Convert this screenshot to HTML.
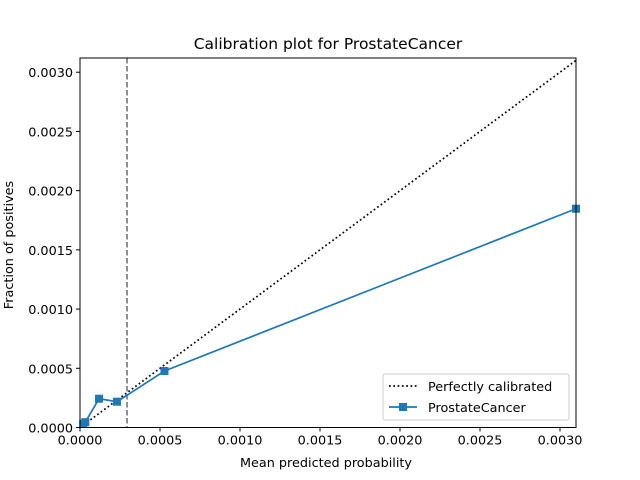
<!DOCTYPE html>
<html><head><meta charset="utf-8"><style>
body{margin:0;background:#fff}
svg{display:block;font-family:"DejaVu Sans","Liberation Sans",sans-serif}
</style></head><body>
<svg id="chart" width="640" height="480">
<rect width="640" height="480" fill="#fff"/>
<text x="328" y="49" text-anchor="middle" font-size="15.5">Calibration plot for ProstateCancer</text>
<g id="plot"></g>
<text x="326" y="467" text-anchor="middle" font-size="12.8">Mean predicted probability</text>
<text transform="translate(13,245) rotate(-90)" text-anchor="middle" font-size="12.8">Fraction of positives</text>
<g>
<rect x="383" y="374" width="186" height="46" fill="#fff" fill-opacity="0.8" stroke="#ccc" rx="2"/>
<line x1="389" y1="386" x2="417" y2="386" stroke="#000" stroke-width="1.7" stroke-dasharray="1.7,2.6"/>
<text x="428" y="391" font-size="12.8">Perfectly calibrated</text>
<line x1="389" y1="407" x2="417" y2="407" stroke="#1f77b4" stroke-width="1.7"/>
<rect x="399" y="403" width="8" height="8" fill="#1f77b4"/>
<text x="428" y="412" font-size="12.8">ProstateCancer</text>
</g>
</svg>
<script>
const xValues=[0.00002,0.000033,0.000119,0.000231,0.000528,0.0031];
const yValues=[0.00003,0.000045,0.000243,0.000218,0.000477,0.001847];
const xTicks=[0,0.0005,0.001,0.0015,0.002,0.0025,0.003];
const yTicks=[0,0.0005,0.001,0.0015,0.002,0.0025,0.003];
const thresholdX=[0.000294];
const X0=80,X1=576,Y0=427.5,Y1=58,XMAX=0.0031,YMAX=0.00312;
const sx=v=>X0+(X1-X0)*v/XMAX, sy=v=>Y0-(Y0-Y1)*v/YMAX;
const NS="http://www.w3.org/2000/svg", g=document.getElementById('plot');
function mk(t,a){const e=document.createElementNS(NS,t);for(const k in a)e.setAttribute(k,a[k]);g.appendChild(e);return e;}
let e=mk('line',{x1:sx(0),y1:sy(0),x2:sx(XMAX),y2:sy(XMAX),stroke:'#000','stroke-width':1.7,'stroke-dasharray':'1.7,2.6'});


thresholdX.forEach(v=>{const l=mk('line',{x1:sx(v),y1:Y1,x2:sx(v),y2:Y0,stroke:'#7f7f7f','stroke-width':1.7,'stroke-dasharray':'5.5,2.5'});

});
const p=mk('polyline',{points:xValues.map((v,i)=>sx(v)+','+sy(yValues[i])).join(' '),fill:'none',stroke:'#1f77b4','stroke-width':1.7});


xValues.forEach((v,i)=>{const r=mk('rect',{x:sx(v)-4,y:sy(yValues[i])-4,width:8,height:8,fill:'#1f77b4'});

});
const fr=mk('rect',{x:X0,y:Y1,width:X1-X0,height:Y0-Y1,fill:'none',stroke:'#000','stroke-width':1});


xTicks.forEach(v=>{const x=sx(v);mk('line',{x1:x,y1:Y0,x2:x,y2:Y0+4,stroke:'#000'});
const t=mk('text',{x:x,y:Y0+17,'text-anchor':'middle','font-size':12.8});t.textContent=v.toFixed(4);

});
yTicks.forEach(v=>{const y=sy(v);mk('line',{x1:X0-4,y1:y,x2:X0,y2:y,stroke:'#000'});
const t=mk('text',{x:X0-7,y:y+5,'text-anchor':'end','font-size':12.8});t.textContent=v.toFixed(4);

});
</script>
</body></html>
